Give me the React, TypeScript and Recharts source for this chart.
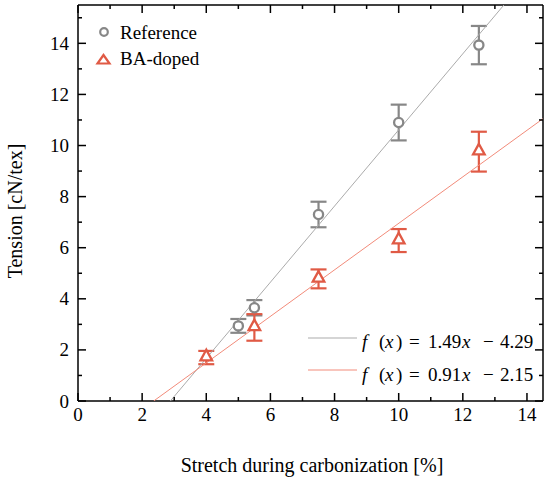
import React from 'react';
import { ComposedChart, Scatter, XAxis, YAxis, ErrorBar } from 'recharts';

const xTicks = [0, 1, 2, 3, 4, 5, 6, 7, 8, 9, 10, 11, 12, 13, 14];
const yTicks = [0, 1, 2, 3, 4, 5, 6, 7, 8, 9, 10, 11, 12, 13, 14, 15];

const referenceData = [
  { x: 5, y: 2.94, e: 0.27 },
  { x: 5.5, y: 3.65, e: 0.3 },
  { x: 7.5, y: 7.3, e: 0.5 },
  { x: 10, y: 10.9, e: 0.7 },
  { x: 12.5, y: 13.93, e: 0.75 },
];
const baDopedData = [
  { x: 4, y: 1.7, e: 0.26 },
  { x: 5.5, y: 2.88, e: 0.52 },
  { x: 7.5, y: 4.78, e: 0.37 },
  { x: 10, y: 6.28, e: 0.45 },
  { x: 12.5, y: 9.76, e: 0.78 },
];
const referenceFit = [
  { x: 2.88, y: 0 },
  { x: 13.28, y: 15.5 },
];
const baDopedFit = [
  { x: 2.36, y: 0 },
  { x: 14.5, y: 11.05 },
];
const fitLabels = [
  { slope: '1.49', intercept: '4.29' },
  { slope: '0.91', intercept: '2.15' },
];

const GRAY = '#878787';
const RED = '#e05a45';
const GRAY_FIT = '#ababab';
const RED_FIT = '#f28b7a';
const TXT: React.CSSProperties = { fontFamily: 'Liberation Serif', fontSize: 19 };
const TITLE: React.CSSProperties = { fontFamily: 'Liberation Serif', fontSize: 20 };
const MAJ = 8;
const MIN = 4;

const BottomTick = (p: any) => {
  const v = p.payload.value;
  const major = v % 2 === 0;
  return (
    <g>
      <line x1={p.x} x2={p.x} y1={p.y} y2={p.y - (major ? MAJ : MIN)} stroke="#000" strokeWidth={1.5} />
      {major && (
        <text x={p.x} y={p.y + 20} textAnchor="middle" style={TXT} fill="#000">
          {v}
        </text>
      )}
    </g>
  );
};
const TopTick = (p: any) => {
  const v = p.payload.value;
  const major = v % 2 === 0;
  return <line x1={p.x} x2={p.x} y1={p.y} y2={p.y + (major ? MAJ : MIN)} stroke="#000" strokeWidth={1.5} />;
};
const LeftTick = (p: any) => {
  const v = p.payload.value;
  const major = v % 2 === 0;
  return (
    <g>
      <line x1={p.x} x2={p.x + (major ? MAJ : MIN)} y1={p.y} y2={p.y} stroke="#000" strokeWidth={1.5} />
      {major && (
        <text x={p.x - 9} y={p.y + 6.5} textAnchor="end" style={TXT} fill="#000">
          {v}
        </text>
      )}
    </g>
  );
};
const RightTick = (p: any) => {
  const v = p.payload.value;
  const major = v % 2 === 0;
  return <line x1={p.x} x2={p.x - (major ? MAJ : MIN)} y1={p.y} y2={p.y} stroke="#000" strokeWidth={1.5} />;
};

const CircleShape = (p: any) => (
  <circle cx={p.cx} cy={p.cy} r={4.6} fill="#fff" stroke={GRAY} strokeWidth={2.3} />
);
const TriangleShape = (p: any) => (
  <polygon
    points={`${p.cx},${p.cy - 7.8} ${p.cx - 5.8},${p.cy + 2.8} ${p.cx + 5.8},${p.cy + 2.8}`}
    fill="#fff"
    stroke={RED}
    strokeWidth={2.3}
  />
);
const NoShape = () => <g />;

const FitText = ({ y, slope, intercept }: { y: number; slope: string; intercept: string }) => (
  <text y={y} fill="#000" style={TXT}>
    <tspan x={362} fontStyle="italic">f</tspan>
    <tspan x={379}>(</tspan>
    <tspan x={385} fontStyle="italic">x</tspan>
    <tspan x={396}>)</tspan>
    <tspan x={409}>=</tspan>
    <tspan x={428}>{slope}</tspan>
    <tspan x={462} fontStyle="italic">x</tspan>
    <tspan x={483}>−</tspan>
    <tspan x={500}>{intercept}</tspan>
  </text>
);

export default function App() {
  return (
    <div style={{ position: 'absolute', left: 0, top: 0, width: 550, height: 481, background: '#fff' }}>
      <ComposedChart width={550} height={481} margin={{ top: 0, right: 0, bottom: 0, left: 0 }}>
        <XAxis
          xAxisId="b"
          type="number"
          dataKey="x"
          orientation="bottom"
          domain={[0, 14.5]}
          ticks={xTicks}
          interval={0}
          height={80}
          tickSize={0}
          tickMargin={0}
          tick={BottomTick}
          axisLine={{ stroke: '#000', strokeWidth: 1.5 }}
          allowDataOverflow
        />
        <XAxis
          xAxisId="t"
          type="number"
          dataKey="x"
          orientation="top"
          domain={[0, 14.5]}
          ticks={xTicks}
          interval={0}
          height={5}
          tickSize={0}
          tickMargin={0}
          tick={TopTick}
          axisLine={{ stroke: '#000', strokeWidth: 1.5 }}
          allowDataOverflow
        />
        <YAxis
          yAxisId="l"
          type="number"
          dataKey="y"
          orientation="left"
          domain={[0, 15.5]}
          ticks={yTicks}
          interval={0}
          width={78}
          tickSize={0}
          tickMargin={0}
          tick={LeftTick}
          axisLine={{ stroke: '#000', strokeWidth: 1.5 }}
          allowDataOverflow
        />
        <YAxis
          yAxisId="r"
          type="number"
          dataKey="y"
          orientation="right"
          domain={[0, 15.5]}
          ticks={yTicks}
          interval={0}
          width={7}
          tickSize={0}
          tickMargin={0}
          tick={RightTick}
          axisLine={{ stroke: '#000', strokeWidth: 1.5 }}
          allowDataOverflow
        />
        <Scatter
          xAxisId="b"
          yAxisId="l"
          data={referenceFit}
          line={{ stroke: GRAY_FIT, strokeWidth: 1 }}
          shape={NoShape}
          isAnimationActive={false}
        />
        <Scatter
          xAxisId="b"
          yAxisId="l"
          data={baDopedFit}
          line={{ stroke: RED_FIT, strokeWidth: 1 }}
          shape={NoShape}
          isAnimationActive={false}
        />
        <Scatter xAxisId="b" yAxisId="l" data={referenceData} shape={CircleShape} isAnimationActive={false}>
          <ErrorBar dataKey="e" direction="y" width={8} stroke={GRAY} strokeWidth={2.2} isAnimationActive={false} />
        </Scatter>
        <Scatter xAxisId="b" yAxisId="l" data={baDopedData} shape={TriangleShape} isAnimationActive={false}>
          <ErrorBar dataKey="e" direction="y" width={8} stroke={RED} strokeWidth={2.2} isAnimationActive={false} />
        </Scatter>
      </ComposedChart>
      <svg
        width={550}
        height={481}
        style={{ position: 'absolute', left: 0, top: 0, pointerEvents: 'none' }}
      >
        <circle cx={104} cy={32} r={3.8} fill="#fff" stroke={GRAY} strokeWidth={2.2} />
        <text x={120} y={38.5} fill="#000" style={TXT}>Reference</text>
        <polygon points="103.5,55 97.5,63.5 109.5,63.5" fill="#fff" stroke={RED} strokeWidth={2.2} />
        <text x={120} y={64.5} fill="#000" style={TXT}>BA-doped</text>

        <line x1={308} x2={357} y1={338} y2={338} stroke={GRAY_FIT} strokeWidth={1} />
        <FitText y={348} slope={fitLabels[0].slope} intercept={fitLabels[0].intercept} />
        <line x1={308} x2={357} y1={370} y2={370} stroke={RED_FIT} strokeWidth={1} />
        <FitText y={381} slope={fitLabels[1].slope} intercept={fitLabels[1].intercept} />

        <text x={312} y={472} textAnchor="middle" fill="#000" style={TITLE}>Stretch during carbonization [%]</text>
        <text x={22} y={211} textAnchor="middle" fill="#000" style={TITLE} transform="rotate(-90 22 211)">
          Tension [cN/tex]
        </text>
      </svg>
    </div>
  );
}
